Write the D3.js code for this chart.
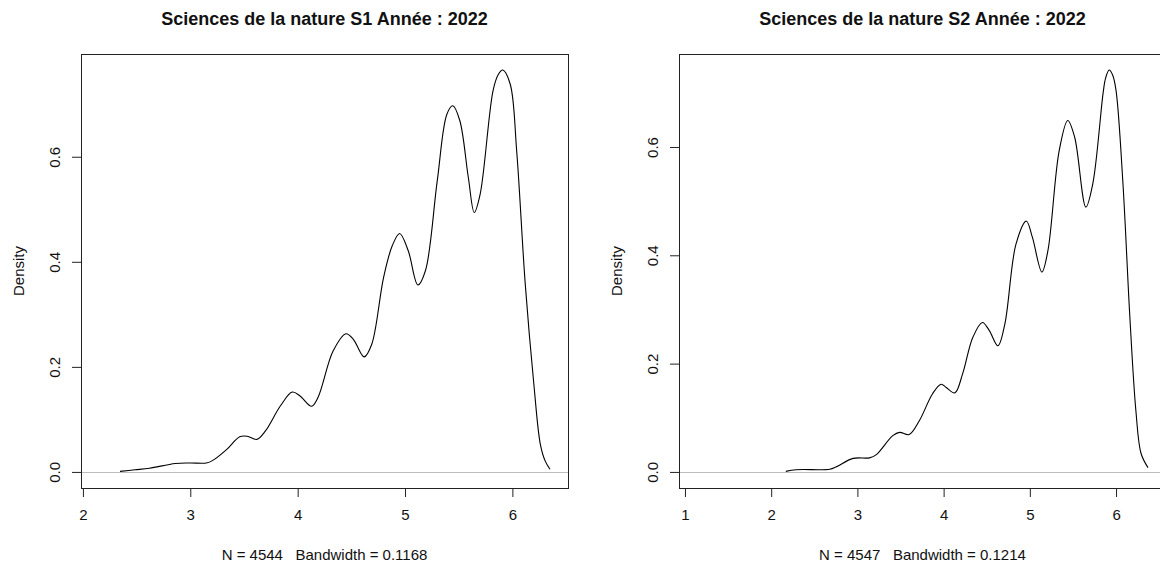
<!DOCTYPE html>
<html><head><meta charset="utf-8">
<script src="https://cdn.jsdelivr.net/npm/d3@7"></script>
<style>
html,body{margin:0;padding:0;background:#fff;}
svg{display:block;font-family:"Liberation Sans",Arial,sans-serif;}
text{white-space:pre;}
</style></head>
<body>
<svg id="chart" width="1160" height="563"></svg>
<script>
// ---- data ----
const titles = ["Sciences de la nature S1 Année : 2022", "Sciences de la nature S2 Année : 2022"];
const subtitles = ["N = 4544   Bandwidth = 0.1168", "N = 4547   Bandwidth = 0.1214"];
const yLabel = "Density";
const xTicks1 = [2, 3, 4, 5, 6];
const xTicks2 = [1, 2, 3, 4, 5, 6];
const yTicks = [0, 0.2, 0.4, 0.6];
// support (range) of each density estimate
const xSupport1 = [2.15, 6.35];
const xSupport2 = [1.14, 6.37];

const xS1 = [2.345, 2.485, 2.62, 2.86, 3.0, 3.15, 3.21, 3.34, 3.46, 3.53, 3.62, 3.70, 3.84, 3.95, 4.02, 4.13, 4.19, 4.33, 4.45, 4.52, 4.62, 4.69, 4.80, 4.88, 4.95, 5.03, 5.12, 5.19, 5.30, 5.39, 5.445, 5.51, 5.59, 5.645, 5.70, 5.82, 5.87, 5.91, 5.98, 6.04, 6.12, 6.20, 6.26, 6.305, 6.35];
const yS1 = [0.001, 0.004, 0.007, 0.016, 0.017, 0.017, 0.022, 0.043, 0.067, 0.068, 0.062, 0.078, 0.126, 0.152, 0.145, 0.125, 0.142, 0.230, 0.263, 0.252, 0.219, 0.243, 0.370, 0.430, 0.454, 0.421, 0.356, 0.383, 0.554, 0.681, 0.697, 0.669, 0.560, 0.494, 0.529, 0.726, 0.757, 0.765, 0.738, 0.611, 0.357, 0.167, 0.053, 0.021, 0.005];

const xS2 = [2.17, 2.29, 2.68, 2.75, 2.95, 3.14, 3.22, 3.41, 3.49, 3.60, 3.72, 3.87, 3.97, 4.03, 4.13, 4.22, 4.34, 4.45, 4.53, 4.63, 4.71, 4.84, 4.96, 5.03, 5.14, 5.21, 5.34, 5.44, 5.52, 5.65, 5.73, 5.85, 5.88, 5.92, 5.96, 6.00, 6.08, 6.16, 6.23, 6.29, 6.37];
const yS2 = [0.001, 0.004, 0.005, 0.009, 0.025, 0.026, 0.032, 0.067, 0.073, 0.069, 0.095, 0.144, 0.162, 0.156, 0.146, 0.181, 0.249, 0.276, 0.261, 0.233, 0.273, 0.421, 0.463, 0.433, 0.369, 0.409, 0.593, 0.649, 0.618, 0.489, 0.532, 0.700, 0.728, 0.742, 0.733, 0.704, 0.532, 0.286, 0.113, 0.034, 0.008];

// ---- drawing ----
const svg = d3.select("#chart");
const panels = [
  {left: 81, xs: xS1, ys: yS1, sup: xSupport1, xt: xTicks1, title: titles[0], sub: subtitles[0]},
  {left: 679, xs: xS2, ys: yS2, sup: xSupport2, xt: xTicks2, title: titles[1], sub: subtitles[1]}
];
const boxW = 487, boxTop = 54, boxBottom = 488;
const FONT = "Liberation Sans, Arial, sans-serif";

panels.forEach(p => {
  const g = svg.append("g");
  const xr = p.sup, yr = [0, d3.max(p.ys)];
  const xe = (xr[1] - xr[0]) * 0.04, ye = (yr[1] - yr[0]) * 0.04;
  const x = d3.scaleLinear().domain([xr[0] - xe, xr[1] + xe]).range([p.left, p.left + boxW]);
  const y = d3.scaleLinear().domain([yr[0] - ye, yr[1] + ye]).range([boxBottom, boxTop]);

  const pts = p.xs.map((v, i) => [v, p.ys[i]]);
  g.append("path").datum(pts)
    .attr("fill", "none").attr("stroke", "#000").attr("stroke-width", 1.1)
    .attr("d", d3.line().x(d => x(d[0])).y(d => y(d[1])).curve(d3.curveCatmullRom.alpha(0.5)));

  // zero line
  g.append("line").attr("x1", p.left).attr("x2", p.left + boxW)
    .attr("y1", Math.round(y(0)) + 0.5).attr("y2", Math.round(y(0)) + 0.5)
    .attr("stroke", "#bdbdbd").attr("stroke-width", 1);

  // box
  g.append("rect").attr("x", p.left + 0.5).attr("y", boxTop + 0.5)
    .attr("width", boxW).attr("height", boxBottom - boxTop)
    .attr("fill", "none").attr("stroke", "#222").attr("stroke-width", 1);

  // x axis
  const xa = g.append("g").attr("transform", `translate(0,${boxBottom})`)
    .call(d3.axisBottom(x).tickValues(p.xt).tickFormat(d3.format("d")).tickSize(9));
  xa.select(".domain").attr("stroke", "#222").attr("d", `M${x(p.xt[0])},0.5H${x(p.xt[p.xt.length-1])}`);
  xa.selectAll(".tick line").attr("stroke", "#222");
  xa.selectAll("text").attr("font-size", 15).attr("fill", "#111").attr("font-family", FONT)
    .attr("y", 32).attr("dy", 0);

  // y axis
  const ya = g.append("g").attr("transform", `translate(${p.left},0)`)
    .call(d3.axisLeft(y).tickValues(yTicks).tickFormat(d3.format(".1f")).tickSize(9).tickPadding(0));
  ya.select(".domain").attr("stroke", "#222").attr("d", `M0.5,${y(yTicks[0])}V${y(yTicks[yTicks.length-1])}`);
  ya.selectAll(".tick line").attr("stroke", "#222");
  ya.selectAll("text").attr("font-size", 15).attr("fill", "#111")
    .attr("font-family", FONT)
    .attr("text-anchor", "middle").attr("dy", 0)
    .attr("transform", "translate(-27,0) rotate(-90)")
    .attr("x", 0).attr("y", 0).attr("dominant-baseline", "central");

  // labels
  const cx = p.left + boxW / 2;
  g.append("text").attr("x", cx).attr("y", 25).attr("text-anchor", "middle")
    .attr("font-weight", "bold").attr("font-size", 18).attr("fill", "#111").text(p.title);
  g.append("text").attr("x", cx).attr("y", 560).attr("text-anchor", "middle")
    .attr("font-size", 15).attr("fill", "#111").text(p.sub);
  g.append("text").attr("transform", `translate(${p.left - 63},271) rotate(-90)`)
    .attr("text-anchor", "middle").attr("dominant-baseline", "central")
    .attr("font-size", 15).attr("fill", "#111").text(yLabel);
});
</script>
</body></html>
